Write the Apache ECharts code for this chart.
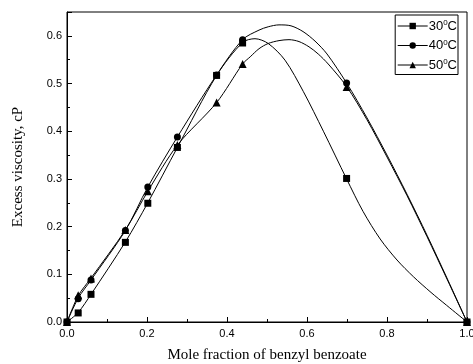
<!DOCTYPE html>
<html>
<head>
<meta charset="utf-8">
<script src="https://cdn.jsdelivr.net/npm/echarts@6/dist/echarts.min.js"></script>
<style>html,body{margin:0;padding:0;background:#fff}#c{width:473px;height:364px}</style>
</head>
<body>
<div id="c"></div>
<script>
// measured data points
var xPts = [0, 0.028, 0.06, 0.146, 0.202, 0.276, 0.374, 0.439, 0.699, 1.0];
var y30 = [0, 0.019, 0.058, 0.167, 0.249, 0.366, 0.517, 0.585, 0.301, 0];
var y40 = [0, 0.049, 0.088, 0.192, 0.283, 0.388, 0.518, 0.592, 0.501, 0];
var y50 = [0, 0.056, 0.091, 0.193, 0.274, 0.371, 0.460, 0.541, 0.493, 0];

// fitted curves
var cx30 = [0, 0.028, 0.06, 0.146, 0.202, 0.276, 0.374, 0.439, 0.47, 0.503, 0.545, 0.591, 0.641, 0.699, 0.74, 0.783, 0.825, 0.866, 0.91, 0.949, 1.0];
var cy30 = [0, 0.020, 0.058, 0.168, 0.250, 0.366, 0.517, 0.586, 0.594, 0.584, 0.549, 0.483, 0.400, 0.300, 0.232, 0.174, 0.130, 0.095, 0.062, 0.035, 0];
var cx40 = [0, 0.028, 0.06, 0.146, 0.202, 0.276, 0.374, 0.439, 0.48, 0.503, 0.53, 0.56, 0.59, 0.62, 0.65, 0.699, 0.75, 0.80, 0.85, 0.90, 0.95, 1.0];
var cy40 = [0, 0.050, 0.088, 0.192, 0.283, 0.388, 0.518, 0.592, 0.612, 0.619, 0.623, 0.621, 0.609, 0.589, 0.562, 0.501, 0.428, 0.350, 0.268, 0.182, 0.092, 0];
var cx50 = [0, 0.028, 0.06, 0.146, 0.202, 0.276, 0.374, 0.439, 0.458, 0.48, 0.503, 0.53, 0.555, 0.58, 0.605, 0.628, 0.653, 0.699, 0.75, 0.80, 0.85, 0.90, 0.95, 1.0];
var cy50 = [0, 0.055, 0.092, 0.193, 0.274, 0.371, 0.460, 0.541, 0.556, 0.573, 0.584, 0.590, 0.592, 0.588, 0.577, 0.562, 0.541, 0.494, 0.424, 0.346, 0.265, 0.179, 0.090, 0];

var xTicks = {min: 0, max: 1.0, interval: 0.2};
var yTicks = {min: 0, max: 0.65, interval: 0.1};

function zip(a, b) { return a.map(function (v, i) { return [v, b[i]]; }); }

var chart = echarts.init(document.getElementById('c'));
var markerSeries = function (name, ys, sym, size) {
  return {
    name: name, type: 'line', data: zip(xPts, ys), symbol: sym, symbolSize: size,
    showAllSymbol: true, lineStyle: {opacity: 0}, itemStyle: {color: '#000'},
    z: 3, animation: false, clip: false
  };
};
var curveSeries = function (name, xs, ys) {
  return {
    name: name, type: 'line', data: zip(xs, ys), symbol: 'none', smooth: 0.3,
    lineStyle: {color: '#000', width: 1}, z: 2, animation: false
  };
};

chart.setOption({
  animation: false,
  grid: {left: 67, right: 6, top: 12, bottom: 42, show: true, borderColor: '#000', borderWidth: 1,
    containLabel: false, outerBoundsMode: 'none'},
  legend: {
    data: ['30°C', '40°C', '50°C'],
    orient: 'vertical', right: 15, top: 15,
    borderColor: '#000', borderWidth: 1, padding: [4, 1, 3, 2],
    itemGap: 6, itemWidth: 30, itemHeight: 8,
    lineStyle: {color: '#000', width: 1, opacity: 1},
    textStyle: {color: '#000', fontFamily: 'Liberation Sans', fontSize: 13, padding: [0, 0, 0, -4],
      rich: {s: {fontSize: 8, verticalAlign: 'top', padding: [0, 0, 6, 0], fontFamily: 'Liberation Sans'},
             n: {fontSize: 13, fontFamily: 'Liberation Sans'}}},
    formatter: function (n) { return '{n|' + n.slice(0, 2) + '}{s|0}{n|C}'; }
  },
  xAxis: {
    type: 'value', min: xTicks.min, max: xTicks.max, interval: xTicks.interval,
    name: 'Mole fraction of benzyl benzoate', nameLocation: 'middle', nameGap: 26,
    nameTextStyle: {fontFamily: 'Liberation Serif', fontSize: 15, color: '#000'},
    axisLine: {lineStyle: {color: '#000'}},
    axisTick: {inside: true, length: 5, lineStyle: {color: '#000'}},
    minorTick: {show: true, splitNumber: 2, length: 3, lineStyle: {color: '#000'}},
    splitLine: {show: false},
    axisLabel: {color: '#000', fontFamily: 'Liberation Sans', fontSize: 11, margin: 6,
      formatter: function (v) { return v.toFixed(1); }}
  },
  yAxis: {
    type: 'value', min: yTicks.min, max: yTicks.max, interval: yTicks.interval,
    name: 'Excess viscosity, cP', nameLocation: 'middle', nameGap: 41,
    nameTextStyle: {fontFamily: 'Liberation Serif', fontSize: 15, color: '#000'},
    axisLine: {lineStyle: {color: '#000'}},
    axisTick: {inside: true, length: 5, lineStyle: {color: '#000'}},
    minorTick: {show: true, splitNumber: 2, length: 3, lineStyle: {color: '#000'}},
    splitLine: {show: false},
    axisLabel: {color: '#000', fontFamily: 'Liberation Sans', fontSize: 11, margin: 5,
      showMaxLabel: false,
      formatter: function (v) { return v.toFixed(1); }}
  },
  series: [
    curveSeries('fit30', cx30, cy30),
    curveSeries('fit40', cx40, cy40),
    curveSeries('fit50', cx50, cy50),
    markerSeries('30°C', y30, 'rect', 7),
    markerSeries('40°C', y40, 'circle', 7),
    markerSeries('50°C', y50, 'triangle', 8)
  ]
});
</script>
</body>
</html>
